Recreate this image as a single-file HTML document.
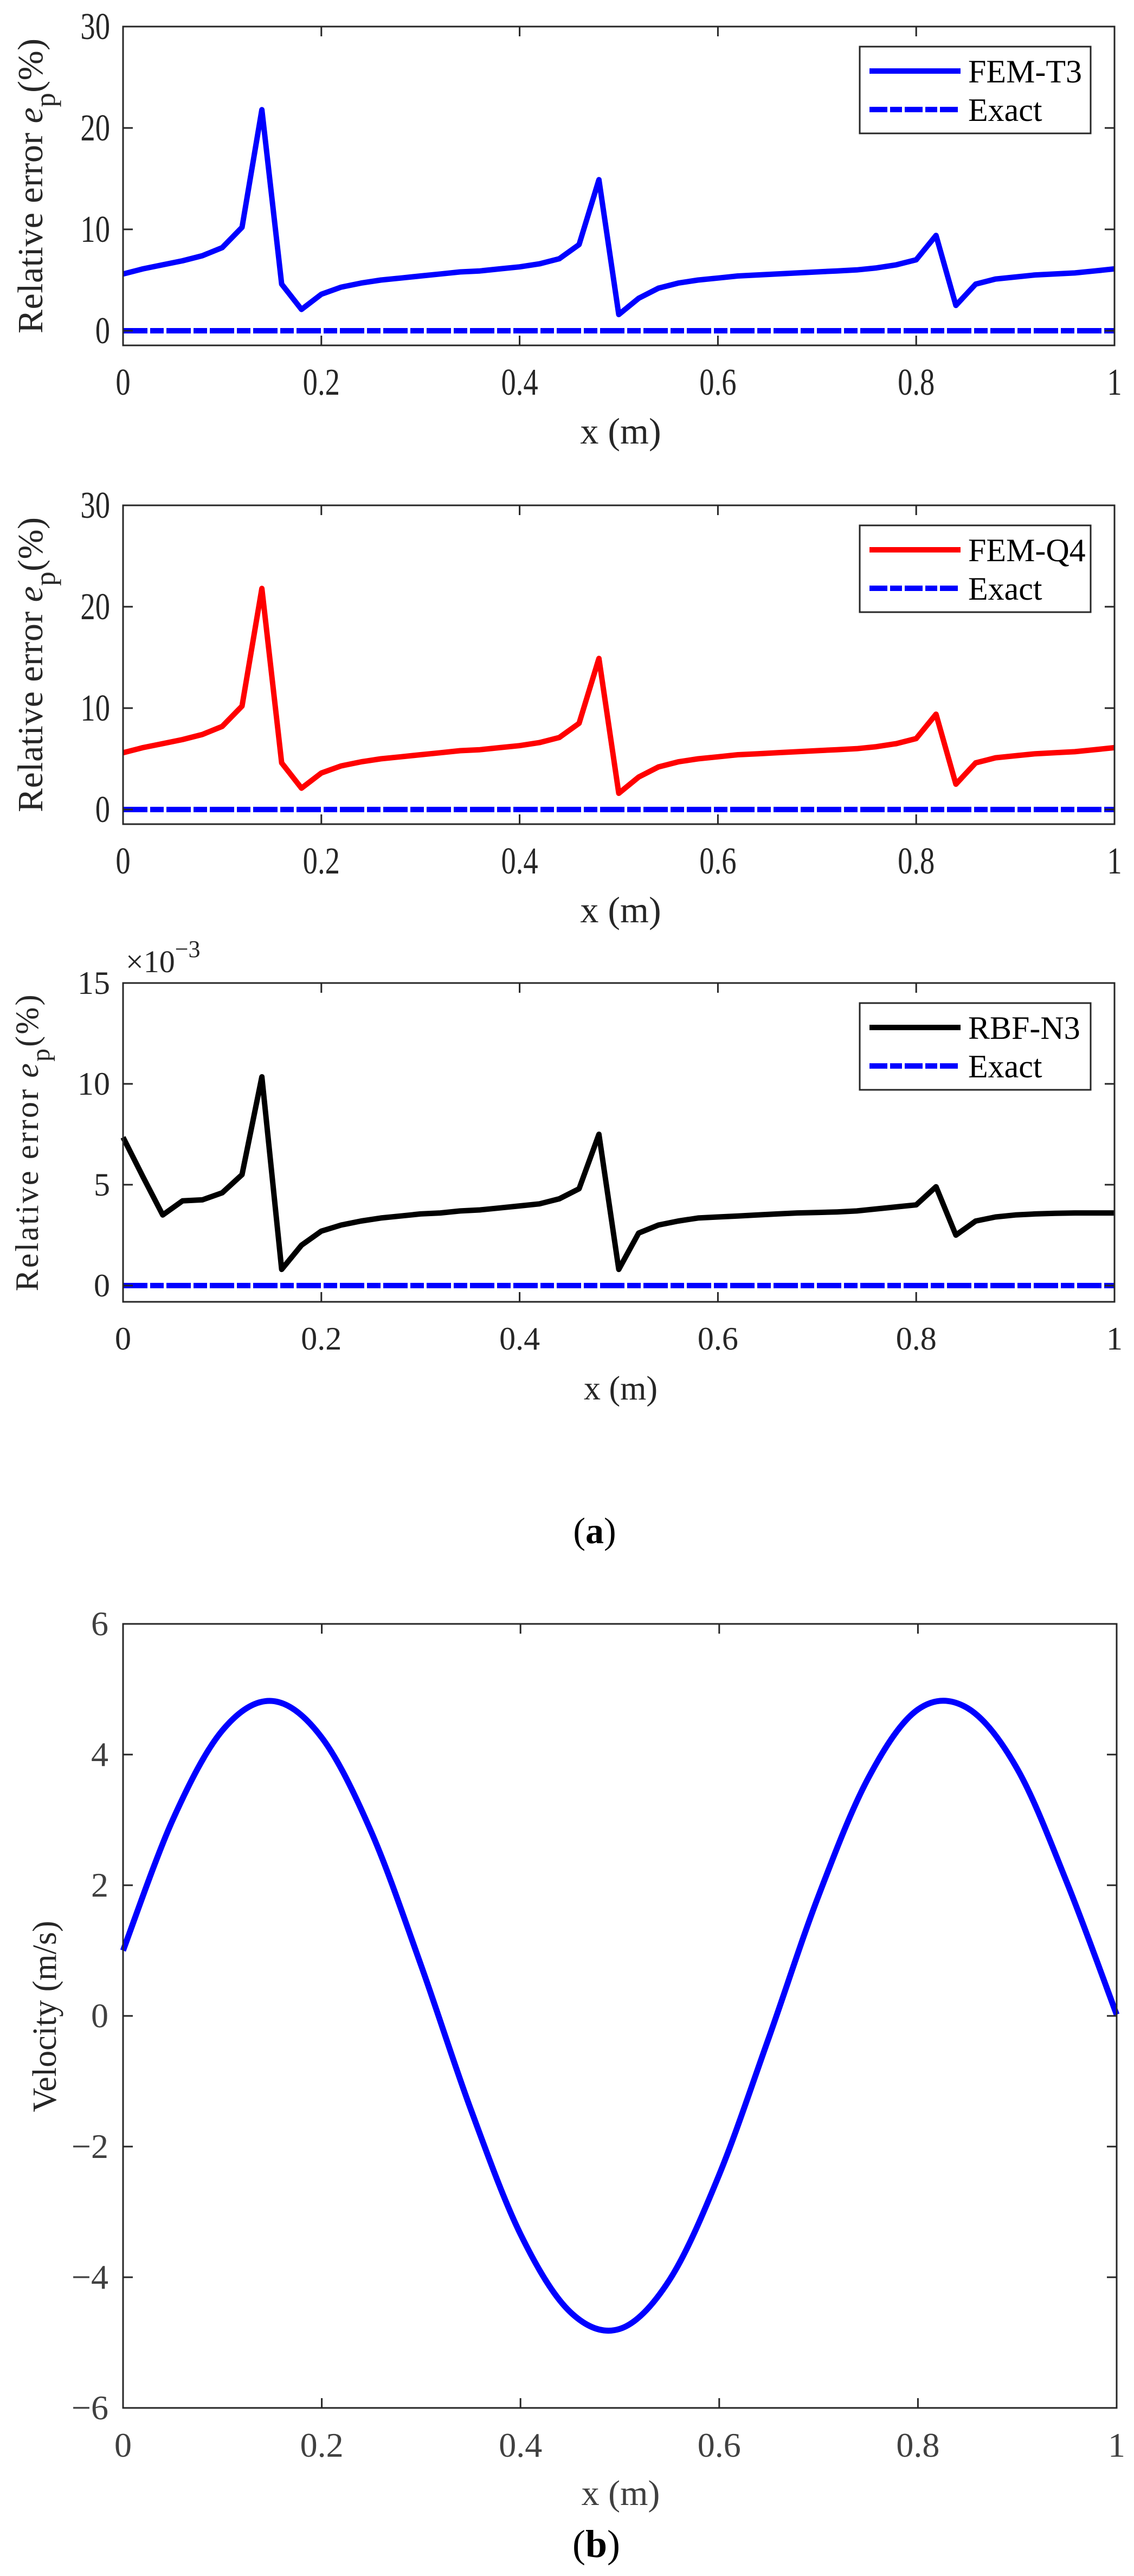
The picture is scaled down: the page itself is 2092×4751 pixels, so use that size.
<!DOCTYPE html>
<html><head><meta charset="utf-8"><title>Relative error and velocity</title>
<style>html,body{margin:0;padding:0;background:#fff;}svg{display:block;}</style></head>
<body>
<svg id="fig" xmlns="http://www.w3.org/2000/svg" width="2092" height="4751" viewBox="0 0 2092 4751" font-family="'Liberation Serif', serif"></svg>
<script>
// ---------- data ----------
const xTicks = [0, 0.2, 0.4, 0.6, 0.8, 1];
const xTickLabels = ['0', '0.2', '0.4', '0.6', '0.8', '1'];
const nodeX = [0,0.02,0.04,0.06,0.08,0.10,0.12,0.14,0.16,0.18,0.20,0.22,0.24,0.26,0.28,0.30,0.32,0.34,0.36,0.38,0.40,0.42,0.44,0.46,0.48,0.50,0.52,0.54,0.56,0.58,0.60,0.62,0.64,0.66,0.68,0.70,0.72,0.74,0.76,0.78,0.80,0.82,0.84,0.86,0.88,0.90,0.92,0.94,0.96,0.98,1.00];
const femT3 = [5.6,6.1,6.5,6.9,7.4,8.2,10.2,21.8,4.6,2.1,3.6,4.3,4.7,5.0,5.2,5.4,5.6,5.8,5.9,6.1,6.3,6.6,7.1,8.5,14.9,1.6,3.2,4.2,4.7,5.0,5.2,5.4,5.5,5.6,5.7,5.8,5.9,6.0,6.2,6.5,7.0,9.4,2.5,4.6,5.1,5.3,5.5,5.6,5.7,5.9,6.1];
const femQ4 = [5.6,6.1,6.5,6.9,7.4,8.2,10.2,21.8,4.6,2.1,3.6,4.3,4.7,5.0,5.2,5.4,5.6,5.8,5.9,6.1,6.3,6.6,7.1,8.5,14.9,1.6,3.2,4.2,4.7,5.0,5.2,5.4,5.5,5.6,5.7,5.8,5.9,6.0,6.2,6.5,7.0,9.4,2.5,4.6,5.1,5.3,5.5,5.6,5.7,5.9,6.1];
const rbfN3 = [7.35,5.4,3.5,4.2,4.25,4.6,5.5,10.35,0.8,2.0,2.7,3.0,3.2,3.35,3.45,3.55,3.6,3.7,3.75,3.85,3.95,4.05,4.3,4.8,7.5,0.8,2.6,3.0,3.2,3.35,3.4,3.45,3.5,3.55,3.6,3.62,3.65,3.7,3.8,3.9,4.0,4.9,2.5,3.2,3.4,3.5,3.55,3.58,3.6,3.6,3.6];
const exactX = [0, 1];
const exactY = [0, 0];
const ticksA = [0, 10, 20, 30];
const ticksA3 = [0, 5, 10, 15];
const velX = [0,0.05,0.10,0.15,0.20,0.25,0.30,0.35,0.40,0.45,0.50,0.55,0.60,0.65,0.70,0.75,0.80,0.85,0.90,0.95,1.00];
const velY = [1.00,3.00,4.37,4.82,4.26,2.81,0.77,-1.43,-3.34,-4.53,-4.79,-4.04,-2.43,-0.33,1.84,3.64,4.69,4.71,3.78,2.04,0.02];
const ticksB = [-6, -4, -2, 0, 2, 4, 6];
const ticksBLabels = ['\u22126', '\u22124', '\u22122', '0', '2', '4', '6'];

// ---------- helpers ----------
const NS = 'http://www.w3.org/2000/svg';
const svg = document.getElementById('fig');
function mk(tag, attrs, parent) {
  const e = document.createElementNS(NS, tag);
  for (const k in attrs) e.setAttribute(k, attrs[k]);
  (parent || svg).appendChild(e);
  return e;
}
function makeScale(d0, d1, r0, r1) { return v => r0 + (v - d0) * (r1 - r0) / (d1 - d0); }

function drawAxes(g, L, R, T, B, xs, ys, yt, ytl, tickFont, sx, tickColor, labelRight) {
  const frame = mk('rect', {x: L, y: T, width: R - L, height: B - T, fill: 'none', stroke: '#262626', 'stroke-width': 3}, g);
  
  
  xTicks.forEach((v, i) => {
    const x = xs(v);
    const t1 = mk('line', {x1: x, x2: x, y1: B, y2: B - 18, stroke: '#262626', 'stroke-width': 3}, g);
    
    
    const t2 = mk('line', {x1: x, x2: x, y1: T, y2: T + 18, stroke: '#262626', 'stroke-width': 3}, g);
    
    
    const tx = mk('text', {transform: `translate(${x},${B + tickFont.dy}) scale(${sx},1)`, 'text-anchor': 'middle', 'font-size': tickFont.size, fill: tickColor}, g);
    tx.textContent = xTickLabels[i];
    
    
  });
  yt.forEach((v, i) => {
    const y = ys(v);
    const t1 = mk('line', {x1: L, x2: L + 18, y1: y, y2: y, stroke: '#262626', 'stroke-width': 3}, g);
    
    
    const t2 = mk('line', {x1: R, x2: R - 18, y1: y, y2: y, stroke: '#262626', 'stroke-width': 3}, g);
    
    
    const tx = mk('text', {transform: `translate(${labelRight},${y + tickFont.size * 0.33}) scale(${sx},1)`, 'text-anchor': 'end', 'font-size': tickFont.size, fill: tickColor}, g);
    tx.textContent = ytl[i];
    
    
  });
}
function polyline(g, xsArr, ysArr, xs, ys, color, w, dash, name) {
  const pts = xsArr.map((x, i) => xs(x).toFixed(1) + ',' + ys(ysArr[i]).toFixed(1)).join(' ');
  const p = mk('polyline', {points: pts, fill: 'none', stroke: color, 'stroke-width': w, 'stroke-linejoin': 'round'}, g);
  if (dash) p.setAttribute('stroke-dasharray', dash);
  
  
  return p;
}
function legend(g, x0, y0, x1, y1, label, color) {
  const box = mk('rect', {x: x0, y: y0, width: x1 - x0, height: y1 - y0, fill: '#fff', stroke: '#262626', 'stroke-width': 3}, g);
  
  
  const r1 = y0 + 45, r2 = y0 + 116;
  const l1 = mk('line', {x1: x0 + 18, x2: x0 + 186, y1: r1, y2: r1, stroke: color, 'stroke-width': 10}, g);
  
  
  const t1 = mk('text', {x: x0 + 200, y: r1 + 21, 'font-size': 60, fill: '#000'}, g);
  t1.textContent = label;
  
  
  const l2 = mk('line', {x1: x0 + 18, x2: x0 + 186, y1: r2, y2: r2, stroke: '#0000ff', 'stroke-width': 10, 'stroke-dasharray': '33 5 22 5'}, g);
  
  
  const t2 = mk('text', {x: x0 + 200, y: r2 + 21, 'font-size': 60, fill: '#000'}, g);
  t2.textContent = 'Exact';
  
  
}
function ylabelErr(g, x, yc, len, size, name) {
  const t = mk('text', {transform: `translate(${x},${yc}) rotate(-90)`, 'text-anchor': 'middle', 'font-size': size, fill: '#262626', textLength: len, lengthAdjust: 'spacing'}, g);
  
  
  const a = mk('tspan', {}, t); a.textContent = 'Relative error ';
  const b = mk('tspan', {'font-style': 'italic'}, t); b.textContent = 'e';
  const c = mk('tspan', {dy: size * 0.35, 'font-size': size * 0.8}, t); c.textContent = 'p';
  const d = mk('tspan', {dy: -size * 0.35}, t); d.textContent = '(%)';
}

// ---------- panels (a) ----------
const L = 227, R = 2056;
const panels = [
  {top: 49, zero: 610, max: 30, ticks: ticksA, data: femT3, color: '#0000ff', label: 'FEM-T3', sx: 0.78, name: 'fem-t3'},
  {top: 932, zero: 1493, max: 30, ticks: ticksA, data: femQ4, color: '#ff0000', label: 'FEM-Q4', sx: 0.78, name: 'fem-q4'},
  {top: 1813, zero: 2371, max: 15, ticks: ticksA3, data: rbfN3, color: '#000000', label: 'RBF-N3', sx: 1, name: 'rbf-n3'}
];
panels.forEach((p, k) => {
  const g = mk('g', {});
  
  
  const B = p.top + 588;
  const xs = makeScale(0, 1, L, R);
  const ys = makeScale(0, p.max, p.zero, p.top);
  mk('rect', {x: L, y: p.top, width: R - L, height: B - p.top, fill: '#fff'}, g);
  polyline(g, nodeX, p.data, xs, ys, p.color, 10, null, 'line-' + p.name);
  polyline(g, exactX, exactY, xs, ys, '#0000ff', 10, '45 5 25 5', 'line-exact');
  drawAxes(g, L, R, p.top, B, xs, ys, p.ticks, p.ticks.map(String), {size: k < 2 ? 70 : 60, dy: k < 2 ? 91 : 88}, p.sx, '#262626', 203);
  legend(g, 1586, p.top + 37, 2012, p.top + 197, p.label, p.color);
  const xl = mk('text', {x: 1145, y: B + (k < 2 ? 181 : 180), 'text-anchor': 'middle', 'font-size': k < 2 ? 68 : 62, fill: '#262626'}, g);
  xl.textContent = 'x (m)';
  
  
  if (k < 2) ylabelErr(g, 78, p.top + 294, 544, 66, 'y-axis-title');
  else ylabelErr(g, 70, p.top + 295, 547, 60, 'y-axis-title');
  if (k === 2) {
    const ex = mk('text', {x: 232, y: p.top - 20, 'font-size': 58, fill: '#262626'}, g);
    
    
    const e1 = mk('tspan', {}, ex); e1.textContent = '\u00d710';
    const e2 = mk('tspan', {dy: -28, 'font-size': 44}, ex); e2.textContent = '\u22123';
  }
});
const capA = mk('text', {x: 1097, y: 2846, 'text-anchor': 'middle', 'font-size': 68, fill: '#000'});


capA.innerHTML = '(<tspan font-weight="bold">a</tspan>)';

// ---------- panel (b) ----------
(function () {
  const g = mk('g', {});
  
  
  const Lb = 227, Rb = 2060, T = 2995, B = 4441;
  const xs = makeScale(0, 1, Lb, Rb);
  const ys = makeScale(-6, 6, B, T);
  // Catmull-Rom smooth path through sampled points
  const P = velX.map((x, i) => [xs(x), ys(velY[i])]);
  let d = 'M' + P[0][0].toFixed(1) + ',' + P[0][1].toFixed(1);
  for (let i = 0; i < P.length - 1; i++) {
    const p0 = P[i - 1] || P[i], p1 = P[i], p2 = P[i + 1], p3 = P[i + 2] || P[i + 1];
    const c1 = [p1[0] + (p2[0] - p0[0]) / 6, p1[1] + (p2[1] - p0[1]) / 6];
    const c2 = [p2[0] - (p3[0] - p1[0]) / 6, p2[1] - (p3[1] - p1[1]) / 6];
    d += ` C${c1[0].toFixed(1)},${c1[1].toFixed(1)} ${c2[0].toFixed(1)},${c2[1].toFixed(1)} ${p2[0].toFixed(1)},${p2[1].toFixed(1)}`;
  }
  const path = mk('path', {d: d, fill: 'none', stroke: '#0000ff', 'stroke-width': 11}, g);
  
  
  drawAxes(g, Lb, Rb, T, B, xs, ys, ticksB, ticksBLabels, {size: 64, dy: 90}, 1, '#404040', 200);
  const xl = mk('text', {x: 1145, y: 4620, 'text-anchor': 'middle', 'font-size': 66, fill: '#404040'}, g);
  xl.textContent = 'x (m)';
  
  
  const yl = mk('text', {transform: 'translate(103,3719) rotate(-90)', 'text-anchor': 'middle', 'font-size': 62, fill: '#262626'}, g);
  yl.textContent = 'Velocity (m/s)';
  
  
})();
const capB = mk('text', {x: 1100, y: 4716, 'text-anchor': 'middle', 'font-size': 72, fill: '#000'});


capB.innerHTML = '(<tspan font-weight="bold">b</tspan>)';
</script>
</body></html>
